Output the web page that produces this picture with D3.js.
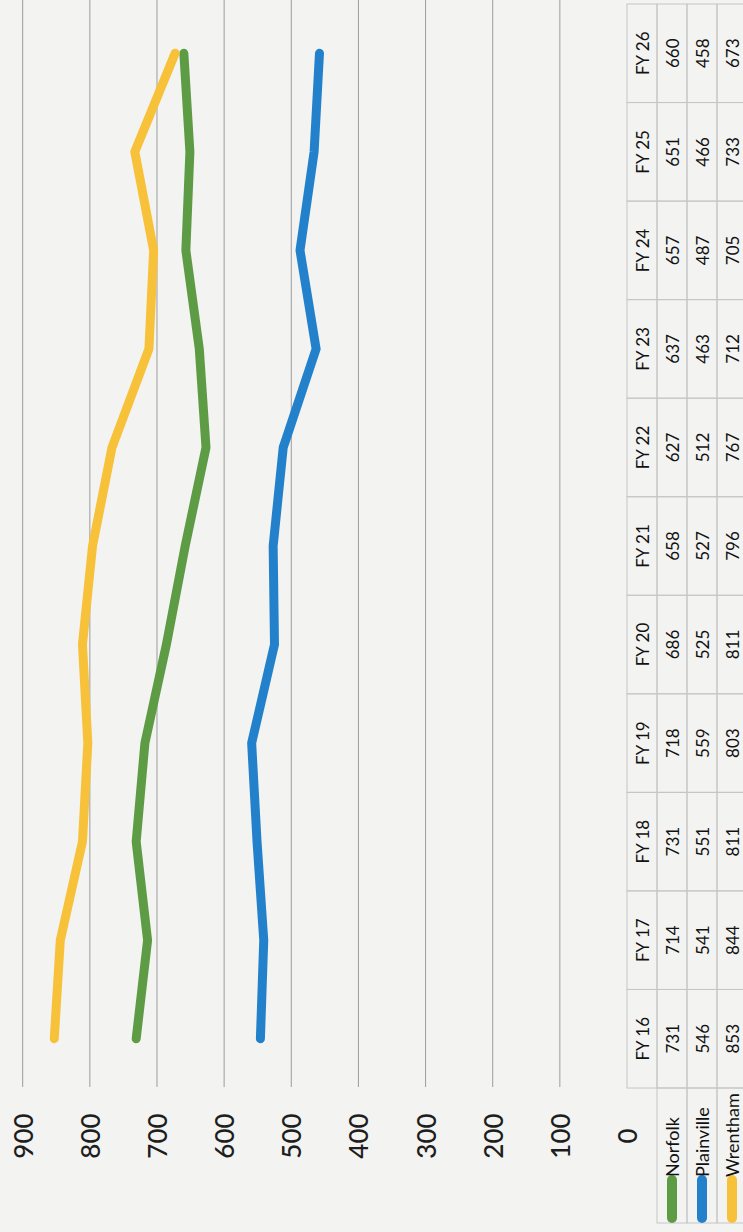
<!DOCTYPE html>
<html><head><meta charset="utf-8">
<script src="https://cdn.jsdelivr.net/npm/d3@7"></script>
<style>
html,body{margin:0;padding:0;background:#f3f3f1;}
svg{display:block;}
</style></head>
<body>
<script>
const categories = ["FY 16","FY 17","FY 18","FY 19","FY 20","FY 21","FY 22","FY 23","FY 24","FY 25","FY 26"];
const norfolk    = [731,714,731,718,686,658,627,637,657,651,660];
const plainville = [546,541,551,559,525,527,512,463,487,466,458];
const wrentham   = [853,844,811,803,811,796,767,712,705,733,673];
const seriesNames = ["Norfolk","Plainville","Wrentham"];
const seriesColors = ["#5d9c45","#2381cb","#f7c23a"];
const valueTicks = [0,100,200,300,400,500,600,700,800,900];

const seriesData = [norfolk, plainville, wrentham];

const W = 1232, H = 743;
const svg = d3.select("body").append("svg").attr("width",743).attr("height",1232);
svg.append("rect").attr("width",743).attr("height",1232).attr("fill","#f3f3f1");

// chart is drawn in landscape and rotated
const g = svg.append("g").attr("transform","translate(0,1232) rotate(-90)");

const x = d3.scaleBand().domain(categories).range([144, 1228]).paddingInner(0).paddingOuter(0);
const y = d3.scaleLinear().domain([0,900]).range([627, 22.7]);

// gridlines
g.append("g").selectAll("line").data(valueTicks.filter(v=>v>0)).join("line")
  .attr("x1",145).attr("x2",W)
  .attr("y1",d=>y(d)).attr("y2",d=>y(d))
  .attr("stroke","#9c9c9c").attr("stroke-width",1);

// value labels
g.append("g").selectAll("text").data(valueTicks).join("text")
  .attr("x",96).attr("y",d=>y(d))
  .attr("text-anchor","middle").attr("dominant-baseline","central")
  .attr("font-family","Lato, 'Open Sans', sans-serif").attr("font-size",26)
  .attr("font-weight",500)
  .attr("fill","#1e1e1e").text(d=>d);

// lines
const line = d3.line().x((d,i)=>x(categories[i])+x.bandwidth()/2).y(d=>y(d));
g.append("g").selectAll("path").data(seriesData).join("path")
  .attr("d",d=>line(d)).attr("fill","none")
  .attr("stroke",(d,i)=>seriesColors[i]).attr("stroke-width",9)
  .attr("stroke-linecap","round").attr("stroke-linejoin","round");

// data table
const rowTop = [627,657,687,717];
const rowH = 30;
const tbl = g.append("g");
const borderColor = "#c6c6c6";
const tFont = "Lato, 'Open Sans', sans-serif";
categories.forEach((c,i)=>{
  tbl.append("rect").attr("x",x(c)).attr("y",rowTop[0]).attr("width",x.bandwidth()).attr("height",rowH)
    .attr("fill","none").attr("stroke",borderColor).attr("stroke-width",1);
  tbl.append("text").attr("x",x(c)+x.bandwidth()/2).attr("y",rowTop[0]+rowH/2)
    .attr("text-anchor","middle").attr("dominant-baseline","central")
    .attr("font-family",tFont).attr("font-size",17)
    .attr("fill","#111").text(c);
});
seriesData.forEach((s,si)=>{
  const ry = rowTop[si+1];
  tbl.append("rect").attr("x",9).attr("y",ry).attr("width",135).attr("height",rowH)
    .attr("fill","none").attr("stroke",borderColor).attr("stroke-width",1);
  tbl.append("line").attr("x1",14).attr("x2",52).attr("y1",ry+rowH/2).attr("y2",ry+rowH/2)
    .attr("stroke",seriesColors[si]).attr("stroke-width",10).attr("stroke-linecap","round");
  tbl.append("text").attr("x",55).attr("y",ry+rowH/2)
    .attr("dominant-baseline","central")
    .attr("font-family",tFont).attr("font-size",18)
    .attr("fill","#111").text(seriesNames[si]);
  s.forEach((v,i)=>{
    const c = categories[i];
    tbl.append("rect").attr("x",x(c)).attr("y",ry).attr("width",x.bandwidth()).attr("height",rowH)
      .attr("fill","none").attr("stroke",borderColor).attr("stroke-width",1);
    tbl.append("text").attr("x",x(c)+x.bandwidth()/2).attr("y",ry+rowH/2)
      .attr("text-anchor","middle").attr("dominant-baseline","central")
      .attr("font-family",tFont).attr("font-size",17)
      .attr("fill","#111").text(v);
  });
});
</script>
</body></html>
